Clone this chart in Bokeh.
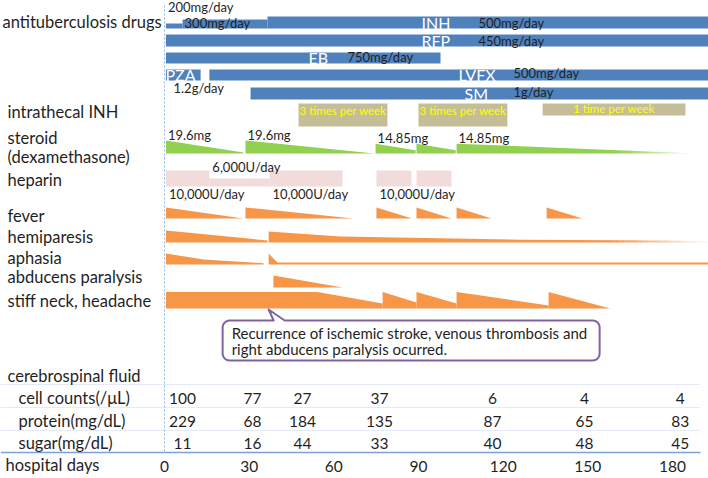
import numpy as np
from bokeh.plotting import figure
from bokeh.models import Range1d
from bokeh.core.properties import value
from bokeh.embed import file_html
from bokeh.resources import INLINE

# ---------------- data (x = hospital day) ----------------
tick_days = [0, 30, 60, 90, 120, 150, 180]

row_labels = ["intrathecal INH", "steroid", "(dexamethasone)",
              "heparin", "fever", "hemiparesis", "aphasia", "abducens paralysis",
              "stiff neck, headache", "cerebrospinal fluid"]
csf_labels = ["cell counts(/\u03bcL)", "protein(mg/dL)", "sugar(mg/dL)"]

# INH dose steps
inh_start = [0.5, 6.4, 36.5]
inh_end = [6.4, 36.5, 193.0]
inh_dose = ["200mg/day", "300mg/day", "500mg/day"]

drug_names = ["RFP", "EB", "PZA", "LVFX", "SM"]
drug_start = [0.5, 0.5, 0.5, 15.9, 30.5]
drug_end = [193.0, 97.8, 12.8, 193.0, 193.0]
drug_dose = ["450mg/day", "750mg/day", "1.2g/day", "500mg/day", "1g/day"]

it_start = [47.5, 90.0, 134.0]
it_end = [79.0, 121.5, 184.6]
it_freq = ["3 times per week", "3 times per week", "1 time per week"]

ster_start = [0.5, 28.7, 74.8, 89.3, 103.5]
ster_end = [28.0, 74.4, 89.0, 103.2, 188.9]
ster_dose = [19.6, 19.6, 14.85, 14.85, 14.85]
ster_end_frac = [0.08, 0.0, 0.33, 0.33, 0.0]
ster_label = ["19.6mg", "19.6mg", "14.85mg", "", "14.85mg"]

hep_start = [0.5, 15.9, 37.2, 75.1, 89.3]
hep_end = [15.9, 37.2, 63.1, 87.5, 101.7]
hep_dose = [10000, 6000, 10000, 10000, 10000]
hep_label = ["10,000U/day", "6,000U/day", "10,000U/day", "10,000U/day", ""]

fever_start = [0.5, 28.7, 75.1, 89.3, 103.5, 135.4]
fever_end = [28.0, 67.0, 87.7, 101.7, 115.9, 148.1]

hemi_days = [[0.5, 36.5], [36.9, 62.4, 87.2, 126.5, 174.7, 192.8]]
hemi_level = [[1.0, 0.17], [0.92, 0.5, 0.4, 0.23, 0.17, 0.1]]

aph_days = [[0.5, 13.9, 35.1], [36.9, 40.0, 192.8]]
aph_level = [[1.0, 0.45, 0.12], [1.0, 0.18, 0.18]]

abd_days = [[38.6, 63.1]]
abd_level = [[1.0, 0.0]]

neck_days = [[0.5, 54.2, 77.3], [77.3, 89.3], [89.3, 103.5], [103.5, 136.1], [136.1, 158.0]]
neck_level = [[1.0, 1.0, 0.3], [1.0, 0.37], [1.0, 0.31], [1.0, 0.18], [1.0, 0.0]]

recurrence_day = 36.9
callout_lines = ["Recurrence of ischemic stroke, venous thrombosis and",
                 "right abducens paralysis ocurred."]

csf_days = [6.4, 31.2, 48.9, 76.2, 116.2, 148.8, 182.8]
csf_cells = [100, 77, 27, 37, 6, 4, 4]
csf_protein = [229, 68, 184, 135, 87, 65, 83]
csf_sugar = [11, 16, 44, 33, 40, 48, 45]

# ---------------- layout / style ----------------
X0_PX = 164.0   # pixel column of day 0
PXD = 2.822     # pixels per day
W, H = 708, 478
x_lo = -X0_PX / PXD
x_hi = x_lo + W / PXD


def X(px):
    return (px - X0_PX) / PXD


FONT = value("Lato")
INK = "#1f1f1f"
BLUE = "#4f81bd"
TAN = "#c4bd97"
GREEN = "#92d050"
PINK = "#f2dcdb"
ORANGE = "#f79646"
PURPLE = "#8064a2"

INH_BOTTOM = 28
INH_THICK = {"200mg/day": 5, "300mg/day": 9, "500mg/day": 12}
DRUG_ROW = {"RFP": (34, 46), "EB": (52, 63), "PZA": (69, 80), "LVFX": (69, 80), "SM": (87, 99)}
NAME_PX = {"INH": 421, "RFP": 421, "EB": 308, "PZA": 165, "LVFX": 458, "SM": 464}
DOSE_PX = {"INH": 478, "RFP": 478, "EB": 347, "PZA": 173, "LVFX": 513, "SM": 513}
DOSE_DY = {"RFP": -1.5, "EB": -2.3, "PZA": 11.7, "LVFX": -3.5, "SM": -3.3}

IT_TOP = 103
IT_BOTTOM = {"3 times per week": 126, "1 time per week": 115}

STER_BASE, STER_H = 153, 13
HEP_BASE = 186
HEP_H = {10000: 16, 6000: 8}
FEVER_BASE, FEVER_H = 218, 11
HEMI_BASE, HEMI_H = 242, 12
APH_BASE, APH_H = 264, 11
ABD_BASE, ABD_H = 287, 12
NECK_BASE, NECK_H = 308, 16.5

TITLE_BASELINE = 27
LABEL_BASELINES = [117.5, 143, 162.5, 185, 221, 242.5, 263.5, 282.5, 306, 381.5]
CSF_BASELINES = [403, 426.5, 448]
DAYS_BASELINE = 471
TABLE_LINES = [384, 407, 430]
AXIS_LINE = 452
BASELINE_FIX = 0.34   # renderer places alphabetic baseline ~0.34em low

p = figure(width=W, height=H, x_range=Range1d(x_lo, x_hi),
           y_range=Range1d(H, 0),
           x_axis_type=None, y_axis_type=None,
           output_backend="svg", toolbar_location=None, min_border=0,
           background_fill_color="white", border_fill_color="white",
           outline_line_color=None)
p.grid.visible = False


def txt(x, y, t, size, color=INK, align="left", x_offset=0):
    s = float(size.replace("px", ""))
    p.text(x=list(x), y=[v - BASELINE_FIX * s for v in y], text=list(t), text_font=FONT,
           text_font_size=size, text_color=color, text_align=align,
           text_baseline="alphabetic", x_offset=x_offset)


def blend(c, t):
    r, g, b = int(c[1:3], 16), int(c[3:5], 16), int(c[5:7], 16)
    return "#%02x%02x%02x" % (round(r + (255 - r) * t), round(g + (255 - g) * t),
                              round(b + (255 - b) * t))


def band(days, levels, base, height, color, fade_from=None, n=16):
    days = np.asarray(days, float)
    lv = np.asarray(levels, float)
    out_x, out_y, out_c = [], [], []

    def poly(a, b):
        inner = days[(days > a) & (days < b)]
        xx = np.concatenate([[a], inner, [b]])
        top = base - height * np.interp(xx, days, lv)
        return [a] + list(xx) + [b], [base] + list(top) + [base]

    end = days[-1]
    if fade_from is None or fade_from >= end:
        xs, ys = poly(days[0], end)
        out_x.append(xs); out_y.append(ys); out_c.append(color)
    else:
        xs, ys = poly(days[0], min(fade_from + 0.3, end))
        out_x.append(xs); out_y.append(ys); out_c.append(color)
        edges = np.linspace(fade_from, end, n + 1)
        for i in range(n):
            xs, ys = poly(edges[i], min(edges[i + 1] + 0.3, end))
            out_x.append(xs); out_y.append(ys); out_c.append(blend(color, (i + 0.5) / n * 0.95))
    return out_x, out_y, out_c


def draw_bands(day_lists, level_lists, base, height, color, fade_from=None):
    xs_all, ys_all, cs_all = [], [], []
    for k, (d, l) in enumerate(zip(day_lists, level_lists)):
        ff = fade_from if k == len(day_lists) - 1 else None
        xs, ys, cs = band(d, l, base, height, color, ff)
        xs_all += xs; ys_all += ys; cs_all += cs
    p.patches(xs=xs_all, ys=ys_all, fill_color=cs_all, line_color=None)


# ---- grid/table lines ----
p.segment(x0=[x_lo] * 3, x1=[X(700)] * 3, y0=TABLE_LINES, y1=TABLE_LINES,
          line_color="#c9d7ec", line_width=1, line_dash="1 1")
p.segment(x0=[x_lo], x1=[X(700)], y0=[AXIS_LINE], y1=[AXIS_LINE],
          line_color="#7f9fd6", line_width=1.5)
p.segment(x0=[0], x1=[0], y0=[5], y1=[AXIS_LINE], line_color="#8eb4e3",
          line_width=1, line_dash="2 2")

# ---- antituberculosis drugs ----
p.quad(left=inh_start, right=inh_end, bottom=[INH_BOTTOM] * 3,
       top=[INH_BOTTOM - INH_THICK[d] for d in inh_dose], fill_color=BLUE, line_color=None)
p.quad(left=drug_start, right=drug_end,
       bottom=[DRUG_ROW[n][1] for n in drug_names], top=[DRUG_ROW[n][0] for n in drug_names],
       fill_color=BLUE, line_color=None)

txt([inh_start[0], inh_start[1]], [10.7, 27.3], inh_dose[:2], "13px", x_offset=2)
names = ["INH"] + drug_names
name_y = [INH_BOTTOM - 0.5] + [DRUG_ROW[n][1] - 0.5 for n in drug_names]
txt([X(NAME_PX[n]) for n in names], name_y, names, "16px", color="white")
dose_y = [INH_BOTTOM - 1] + [DRUG_ROW[n][1] + DOSE_DY[n] for n in drug_names]
txt([X(DOSE_PX[n]) for n in names], dose_y, [inh_dose[2]] + drug_dose, "13px")

# ---- intrathecal INH ----
p.quad(left=it_start, right=it_end, top=[IT_TOP] * 3, bottom=[IT_BOTTOM[f] for f in it_freq],
       fill_color=TAN, line_color=None)
txt([(a + b) / 2 for a, b in zip(it_start, it_end)],
    [IT_TOP + 11 if f.startswith("3") else IT_TOP + 9 for f in it_freq],
    it_freq, "11.5px", color="#ffff00", align="center")

# ---- steroid ----
ster_days = [[s, e] for s, e in zip(ster_start, ster_end)]
ster_lv = [[d / 19.6, d / 19.6 * f] for d, f in zip(ster_dose, ster_end_frac)]
draw_bands(ster_days, ster_lv, STER_BASE, STER_H, GREEN, fade_from=160)
sl = [(s, STER_BASE - STER_H * d / 19.6 - 1, t)
      for s, d, t in zip(ster_start, ster_dose, ster_label) if t]
txt([a for a, _, _ in sl], [b for _, b, _ in sl], [c for _, _, c in sl], "13px", x_offset=2)

# ---- heparin ----
p.quad(left=hep_start, right=hep_end, bottom=[HEP_BASE] * 5,
       top=[HEP_BASE - HEP_H[d] for d in hep_dose], fill_color=PINK, line_color=None)
hl = [(s, (HEP_BASE - HEP_H[10000] + 1) if d < 10000 else HEP_BASE + 12, t)
      for s, d, t in zip(hep_start, hep_dose, hep_label) if t]
txt([a for a, _, _ in hl], [b for _, b, _ in hl], [c for _, _, c in hl], "13px", x_offset=3)

# ---- symptoms ----
draw_bands([[s, e] for s, e in zip(fever_start, fever_end)],
           [[1.0, 0.0]] * len(fever_start), FEVER_BASE, FEVER_H, ORANGE)
draw_bands(hemi_days, hemi_level, HEMI_BASE, HEMI_H, ORANGE, fade_from=158)
draw_bands(aph_days, aph_level, APH_BASE, APH_H, ORANGE)
draw_bands(abd_days, abd_level, ABD_BASE, ABD_H, ORANGE)
draw_bands(neck_days, neck_level, NECK_BASE, NECK_H, ORANGE)

# ---- callout ----
tip_px = X0_PX + recurrence_day * PXD
tip_y = NECK_BASE + 1
bx0, bx1 = tip_px - 46, tip_px + 331
by0, by1 = tip_y + 11, tip_y + 51
R = 7


def arc(cx, cy, a0, a1):
    t = np.radians(np.linspace(a0, a1, 8))
    return list(zip(cx + R * np.cos(t), cy + R * np.sin(t)))


pts = arc(bx0 + R, by0 + R, 180, 270)
pts += [(tip_px + 5, by0), (tip_px, tip_y), (tip_px + 16, by0)]
pts += arc(bx1 - R, by0 + R, 270, 360)
pts += arc(bx1 - R, by1 - R, 0, 90)
pts += arc(bx0 + R, by1 - R, 90, 180)
pts.append(pts[0])
p.patch(x=[X(a) for a, _ in pts], y=[b for _, b in pts], fill_color="white",
        line_color=PURPLE, line_width=2, line_join="round")
txt([X(bx0 + 9)] * 2, [by0 + 18, by0 + 34], callout_lines, "15px")

# ---- left row labels ----
txt([x_lo], [TITLE_BASELINE], ["antituberculosis drugs"], "16.5px", x_offset=2)
txt([x_lo] * len(row_labels), LABEL_BASELINES, row_labels, "16.5px", x_offset=7)
txt([x_lo] * 3, CSF_BASELINES, csf_labels, "16.5px", x_offset=18)
txt([x_lo], [DAYS_BASELINE - 1], ["hospital days"], "16.5px", x_offset=5)

# ---- CSF table values ----
for vals, yb in zip([csf_cells, csf_protein, csf_sugar], CSF_BASELINES):
    txt(csf_days, [yb] * len(csf_days), [str(v) for v in vals], "15.5px", align="center")

# ---- hospital day ticks ----
txt(tick_days, [DAYS_BASELINE] * len(tick_days), [str(t) for t in tick_days], "15.5px",
    align="center")

open("out.html", "w").write(file_html(p, INLINE))
